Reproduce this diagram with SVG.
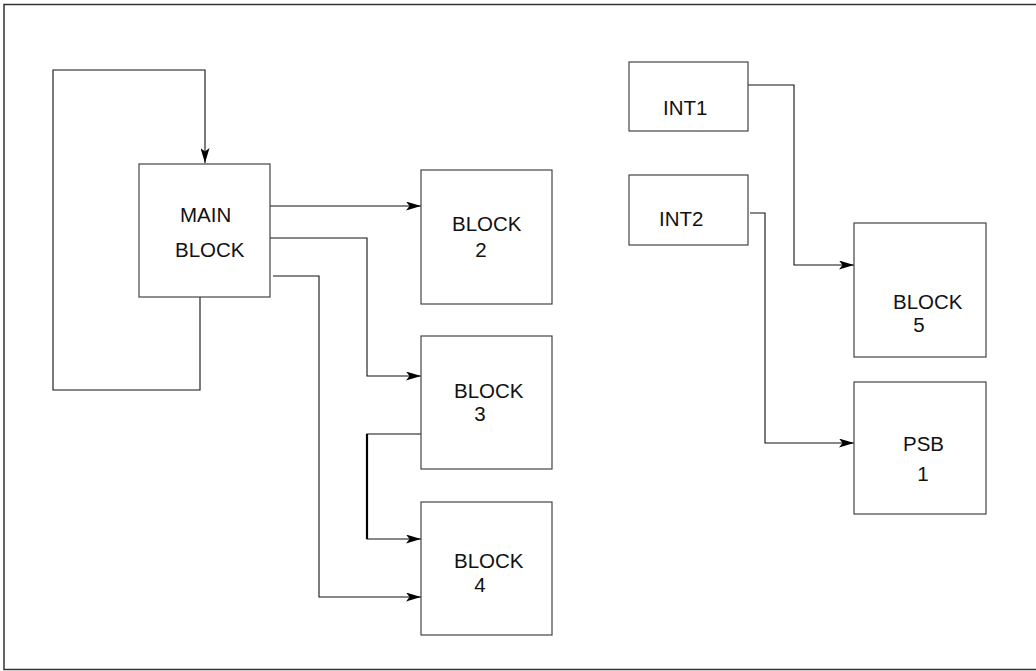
<svg xmlns="http://www.w3.org/2000/svg" width="1036" height="671" viewBox="0 0 1036 671">
<style>
.box{fill:#fff;stroke:#444;stroke-width:1.2}
.frame{fill:none;stroke:#333;stroke-width:1.5}
.c{fill:none;stroke:#111;stroke-width:1.1}
.t{font-family:"Liberation Sans",Arial,sans-serif;font-size:20.5px;fill:#111}
</style>
<defs>
<marker id="ah" viewBox="0 0 15 9" refX="15" refY="4.5" markerWidth="15" markerHeight="9" markerUnits="userSpaceOnUse" orient="auto">
<path d="M0,0 L15,4.5 L0,9 L3.5,4.5 z" fill="#000"/>
</marker>
</defs>
<rect class="frame" x="4" y="4.5" width="1040" height="665"/>
<g id="connectors">
<path class="c" d="M200,297 V390 H53 V70 H205 V163" marker-end="url(#ah)"/>
<path class="c" d="M270,206 H421" marker-end="url(#ah)"/>
<path class="c" d="M270,238 H367 V376 H421" marker-end="url(#ah)"/>
<path class="c" d="M273,276 H319 V597 H421" marker-end="url(#ah)"/>
<path class="c" d="M421,434 H367 V539 H421" marker-end="url(#ah)"/>
<line x1="367" y1="434" x2="367" y2="539" stroke="#000" stroke-width="2.2"/>
<path class="c" d="M748,85 H794 V265 H854" marker-end="url(#ah)"/>
<path class="c" d="M750,213 H765 V443 H854" marker-end="url(#ah)"/>
</g>
<g id="main">
<rect class="box" x="139" y="164" width="131" height="133"/>
<text class="t" x="180" y="222">MAIN</text>
<text class="t" x="175" y="257">BLOCK</text>
</g>
<g id="block2">
<rect class="box" x="421" y="170" width="131" height="134"/>
<text class="t" x="452" y="231">BLOCK</text>
<text class="t" x="481" y="257" text-anchor="middle">2</text>
</g>
<g id="block3">
<rect class="box" x="421" y="336" width="131" height="133"/>
<text class="t" x="454" y="398">BLOCK</text>
<text class="t" x="480" y="421" text-anchor="middle">3</text>
</g>
<g id="block4">
<rect class="box" x="421" y="502" width="131" height="133"/>
<text class="t" x="454" y="568">BLOCK</text>
<text class="t" x="480" y="592" text-anchor="middle">4</text>
</g>
<g id="int1">
<rect class="box" x="629" y="62" width="119" height="69"/>
<text class="t" x="663" y="115">INT1</text>
</g>
<g id="int2">
<rect class="box" x="629" y="175" width="119" height="70"/>
<text class="t" x="659" y="226">INT2</text>
</g>
<g id="block5">
<rect class="box" x="854" y="223" width="132" height="134"/>
<text class="t" x="893" y="309">BLOCK</text>
<text class="t" x="919" y="332" text-anchor="middle">5</text>
</g>
<g id="psb1">
<rect class="box" x="854" y="382" width="132" height="132"/>
<text class="t" x="903" y="451">PSB</text>
<text class="t" x="923" y="481" text-anchor="middle">1</text>
</g>
</svg>
